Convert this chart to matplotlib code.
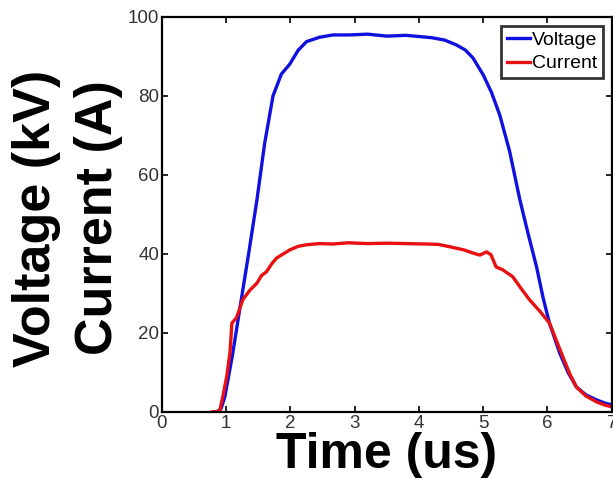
import matplotlib
matplotlib.use("Agg")
import matplotlib.pyplot as plt

# Pulse waveforms: time in microseconds
volt_t = [0.86, 0.92, 0.98, 1.10, 1.21, 1.35, 1.48, 1.60, 1.73, 1.86, 1.99, 2.12, 2.25,
          2.45, 2.66, 2.92, 3.2, 3.5, 3.8, 4.0, 4.2, 4.4, 4.58, 4.72, 4.84, 5.0, 5.13,
          5.26, 5.41, 5.57, 5.70, 5.83, 5.93, 6.03, 6.19, 6.32, 6.45, 6.60, 6.77, 6.9, 7.0]
volt_v = [0.0, 0.8, 3.8, 14.5, 25.8, 40.0, 53.7, 68.0, 80.0, 85.5, 88.0, 91.5, 93.7,
          94.8, 95.4, 95.4, 95.6, 95.1, 95.3, 95.0, 94.7, 94.1, 92.9, 91.6, 89.6, 85.3, 80.8,
          75.0, 66.0, 53.7, 45.0, 36.7, 29.0, 22.5, 14.9, 10.0, 6.3, 4.3, 3.0, 2.2, 1.8]

curr_t = [0.78, 0.90, 0.95, 1.01, 1.06, 1.09, 1.16, 1.26, 1.37, 1.48, 1.55, 1.63, 1.71,
          1.79, 1.89, 1.99, 2.12, 2.25, 2.45, 2.66, 2.9, 3.2, 3.5, 3.8, 4.1, 4.3, 4.48,
          4.7, 4.88, 4.95, 5.05, 5.12, 5.2, 5.3, 5.46, 5.6, 5.72, 5.88, 6.03, 6.14, 6.24,
          6.35, 6.45, 6.6, 6.77, 6.9, 7.0]
curr_a = [0.0, 0.2, 4.0, 9.0, 15.0, 22.5, 23.8, 28.4, 30.8, 32.6, 34.5, 35.5, 37.5,
          39.0, 40.0, 41.0, 41.9, 42.3, 42.6, 42.5, 42.8, 42.6, 42.7, 42.6, 42.5, 42.4, 41.8,
          41.0, 40.0, 39.7, 40.5, 39.8, 36.7, 36.0, 34.2, 31.0, 28.4, 25.5, 22.5, 18.0, 13.9,
          9.5, 6.3, 4.0, 2.5, 1.7, 1.3]

x_ticks = [0, 1, 2, 3, 4, 5, 6, 7]
y_ticks = [0, 20, 40, 60, 80, 100]
y_titles = ["Voltage (kV)", "Current (A)"]

fig = plt.figure(figsize=(6.13, 4.79), dpi=100)
ax = fig.add_axes([0.264, 0.140, 0.734, 0.825])

ax.plot(volt_t, volt_v, color="#1010e0", lw=2.4, label="Voltage", solid_joinstyle="round")
ax.plot(curr_t, curr_a, color="#e81010", lw=2.4, label="Current", solid_joinstyle="round")

ax.set_xlim(0, 7)
ax.set_ylim(0, 100)
ax.set_xticks(x_ticks)
ax.set_yticks(y_ticks)
ax.tick_params(direction="in", length=4, width=1.2, top=True, right=True,
               labelsize=13.5, labelcolor="#333333", pad=2)
for lab in ax.get_xticklabels() + ax.get_yticklabels():
    lab.set_family("Liberation Sans")
for sp in ax.spines.values():
    sp.set_linewidth(1.6)

ax.set_xlabel("Time (us)", fontsize=36, fontweight="bold", family="Liberation Sans", labelpad=0)

# Two-line vertical title, each line anchored on its baseline
for xb, txt in zip([0.0816, 0.1827], y_titles):
    fig.text(xb, 0.545, txt, rotation=90, rotation_mode="anchor", ha="center",
             va="baseline", fontsize=37.5, fontweight="bold", family="Liberation Sans")

leg = ax.legend(loc="upper right", frameon=True, fancybox=False,
                handlelength=1.2, handletextpad=0.1, borderpad=0.3, labelspacing=0.3,
                borderaxespad=0.45, prop={"family": "Liberation Sans", "size": 14})
leg.get_frame().set_edgecolor("black")
leg.get_frame().set_linewidth(2.0)

fig.savefig("out.png", dpi=100)
